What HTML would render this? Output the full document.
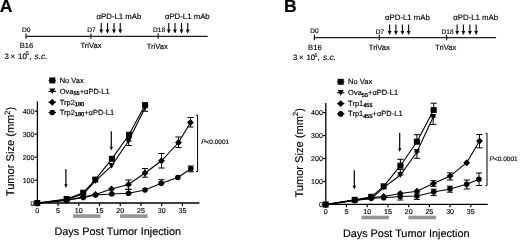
<!DOCTYPE html>
<html><head><meta charset="utf-8"><style>
html,body{margin:0;padding:0;background:#fff;width:520px;height:244px;overflow:hidden}
svg{display:block;filter:grayscale(1)}
text{font-family:"Liberation Sans", sans-serif;fill:#000;text-rendering:geometricPrecision;stroke:#000;stroke-width:0.15px}
</style></head><body>
<svg width="520" height="244" viewBox="0 0 520 244" font-family='"Liberation Sans", sans-serif'>
<rect width="520" height="244" fill="#fff"/>
<text x="-0.2" y="12.4" font-size="17.6" font-weight="bold">A</text>
<text x="283.9" y="12.4" font-size="17.6" font-weight="bold">B</text>
<g>
<g stroke="#1e1e1e" stroke-width="1.2" fill="none">
<path d="M26 36.3H207.7"/>
<path d="M26 33.4V38.8"/>
<path d="M90.9 33.4V38.8"/>
<path d="M158.2 33.4V38.8"/>
</g>
<g font-size="6.6">
<text x="21.9" y="31.9">D0</text>
<text x="87.3" y="32.4">D7</text>
<text x="153.1" y="32.3">D18</text>
</g>
<g font-size="7.6">
<text x="96.6" y="18.8" font-size="7.8">&#945;PD-L1 mAb</text>
<text x="164.9" y="18.8" font-size="7.8">&#945;PD-L1 mAb</text>
<text x="19.7" y="48.3">B16</text>
<text x="80.4" y="48.3">TriVax</text>
<text x="146.7" y="48.6">TriVax</text>
<text x="4.5" y="58.8" font-size="7.8">3<tspan x="10.5">&#215;</tspan><tspan x="18.1">10</tspan><tspan x="26" font-size="5.2" dy="-3.4">5</tspan><tspan x="29.2" dy="3.4">,</tspan><tspan x="34.6" font-style="italic" font-size="8.3">s.c.</tspan></text>
</g>
<path d="M101.25 23.1V30.1" stroke="#000" stroke-width="1.1" fill="none"/><path d="M99.35 29.6H103.15L101.25 33.6Z"/>
<path d="M107.5 23.1V30.1" stroke="#000" stroke-width="1.1" fill="none"/><path d="M105.6 29.6H109.4L107.5 33.6Z"/>
<path d="M114 23.1V30.1" stroke="#000" stroke-width="1.1" fill="none"/><path d="M112.1 29.6H115.9L114 33.6Z"/>
<path d="M120.25 23.1V30.1" stroke="#000" stroke-width="1.1" fill="none"/><path d="M118.35 29.6H122.15L120.25 33.6Z"/>
<path d="M168.75 23.1V30.1" stroke="#000" stroke-width="1.1" fill="none"/><path d="M166.85 29.6H170.65L168.75 33.6Z"/>
<path d="M175 23.1V30.1" stroke="#000" stroke-width="1.1" fill="none"/><path d="M173.1 29.6H176.9L175 33.6Z"/>
<path d="M181.5 23.1V30.1" stroke="#000" stroke-width="1.1" fill="none"/><path d="M179.6 29.6H183.4L181.5 33.6Z"/>
<path d="M187.75 23.1V30.1" stroke="#000" stroke-width="1.1" fill="none"/><path d="M185.85 29.6H189.65L187.75 33.6Z"/>
<path d="M48.6 80.4H56" stroke="#000" stroke-width="1.1"/>
<rect x="49.3" y="77.4" width="6" height="6"/>
<text x="59.7" y="82.9" font-size="7.5">No Vax</text>
<path d="M48.6 91.4H56" stroke="#000" stroke-width="1.1"/>
<path d="M49.3 88.5H55.3L52.3 94.3Z"/>
<text x="59.7" y="93.9" font-size="7.5">Ova<tspan font-size="5.6" dy="1.4" style="stroke-width:0.3px">55</tspan><tspan dy="-1.4">+&#945;PD-L1</tspan></text>
<path d="M48.6 102.2H56" stroke="#000" stroke-width="1.1"/>
<path d="M52.3 98.75L55.75 102.2L52.3 105.65L48.85 102.2Z"/>
<text x="59.7" y="104.7" font-size="7.5">Trp2<tspan font-size="5.6" dy="1.4" style="stroke-width:0.3px">180</tspan></text>
<path d="M48.6 112.5H56" stroke="#000" stroke-width="1.1"/>
<circle cx="52.3" cy="112.5" r="2.8"/>
<text x="59.7" y="115" font-size="7.5">Trp2<tspan font-size="5.6" dy="1.4" style="stroke-width:0.3px">180</tspan><tspan dy="-1.4">+&#945;PD-L1</tspan></text>
<g stroke="#000" stroke-width="1.2" fill="none">
<path d="M37.4 101.5V203H199.4" stroke-width="1.3"/>
<path d="M34.75 203.1H37.35"/>
<path d="M34.75 180.12H37.35"/>
<path d="M34.75 157.14H37.35"/>
<path d="M34.75 134.16H37.35"/>
<path d="M34.75 111.18H37.35"/>
<path d="M37.35 203.1V205.9"/>
<path d="M58.08 203.1V205.9"/>
<path d="M78.8 203.1V205.9"/>
<path d="M99.53 203.1V205.9"/>
<path d="M120.25 203.1V205.9"/>
<path d="M140.97 203.1V205.9"/>
<path d="M161.7 203.1V205.9"/>
<path d="M182.42 203.1V205.9"/>
</g>
<g font-size="7.1" text-anchor="end">
<text x="34.5" y="205.7">0</text>
<text x="34.5" y="182.72">100</text>
<text x="34.5" y="159.74">200</text>
<text x="34.5" y="136.76">300</text>
<text x="34.5" y="113.78">400</text>
</g>
<g font-size="7.1" text-anchor="middle">
<text x="37.35" y="212.5">0</text>
<text x="58.08" y="212.5">5</text>
<text x="78.8" y="212.5">10</text>
<text x="99.53" y="212.5">15</text>
<text x="120.25" y="212.5">20</text>
<text x="140.97" y="212.5">25</text>
<text x="161.7" y="212.5">30</text>
<text x="182.42" y="212.5">35</text>
</g>
<rect x="73.1" y="214.3" width="27.5" height="3.6" fill="#959595"/>
<rect x="120" y="214.3" width="27.7" height="3.6" fill="#959595"/>
<text x="54.5" y="235.3" font-size="10.85">Days Post Tumor Injection</text>
<text transform="translate(14.2 196.2) rotate(-90)" font-size="11.1">Tumor Size (mm<tspan font-size="7.5" dy="-4.6">2</tspan><tspan dy="4.6">)</tspan></text>
<path d="M65.9 168.9V184.8" stroke="#000" stroke-width="1.2" fill="none"/><path d="M64.2 184.3H67.6L65.9 188.1Z"/>
<path d="M111.3 131.3V147.3" stroke="#000" stroke-width="1.2" fill="none"/><path d="M109.6 146.8H113L111.3 150.6Z"/>
<path d="M145.1 105.1V111.3M142 105.1H148.2M142 111.3H148.2" fill="none" stroke="#000" stroke-width="1"/>
<path d="M128.7 141V145.5M125.6 141H131.8M125.6 145.5H131.8" fill="none" stroke="#000" stroke-width="1"/>
<path d="M128.5 180V189.5M125.4 180H131.6M125.4 189.5H131.6" fill="none" stroke="#000" stroke-width="1"/>
<path d="M145 168.5V177.2M141.9 168.5H148.1M141.9 177.2H148.1" fill="none" stroke="#000" stroke-width="1"/>
<path d="M161.5 153.5V168M158.4 153.5H164.6M158.4 168H164.6" fill="none" stroke="#000" stroke-width="1"/>
<path d="M178.5 137V147.5M175.4 137H181.6M175.4 147.5H181.6" fill="none" stroke="#000" stroke-width="1"/>
<path d="M190.5 117.5V127M187.4 117.5H193.6M187.4 127H193.6" fill="none" stroke="#000" stroke-width="1"/>
<path d="M128.5 189.2V193.2M125.4 189.2H131.6M125.4 193.2H131.6" fill="none" stroke="#000" stroke-width="1"/>
<path d="M161.4 179.7V183.2M158.3 179.7H164.5M158.3 183.2H164.5" fill="none" stroke="#000" stroke-width="1"/>
<path d="M190.8 166V171.8M187.7 166H193.9M187.7 171.8H193.9" fill="none" stroke="#000" stroke-width="1"/>
<path d="M37.2 203.2 L66.6 200.5 L83.25 197.5 L95.5 195 L111.8 194 L128.5 193.2 L145 190 L161.2 183.2 L177.8 177.5 L190.8 168.8" fill="none" stroke="#000" stroke-width="1.1"/>
<circle cx="37.2" cy="203.2" r="2.8"/>
<circle cx="66.6" cy="200.5" r="2.8"/>
<circle cx="83.25" cy="197.5" r="2.8"/>
<circle cx="95.5" cy="195" r="2.8"/>
<circle cx="111.8" cy="194" r="2.8"/>
<circle cx="128.5" cy="193.2" r="2.8"/>
<circle cx="145" cy="190" r="2.8"/>
<circle cx="161.2" cy="183.2" r="2.8"/>
<circle cx="177.8" cy="177.5" r="2.8"/>
<circle cx="190.8" cy="168.8" r="2.8"/>
<path d="M37.2 203.2 L66.6 200 L83.25 197 L95.5 194.5 L111.5 189 L128.5 184.5 L145 173 L161.5 160.8 L178.5 142.5 L190.5 122.5" fill="none" stroke="#000" stroke-width="1.1"/>
<path d="M37.2 199.75L40.65 203.2L37.2 206.65L33.75 203.2Z"/>
<path d="M66.6 196.55L70.05 200L66.6 203.45L63.15 200Z"/>
<path d="M83.25 193.55L86.7 197L83.25 200.45L79.8 197Z"/>
<path d="M95.5 191.05L98.95 194.5L95.5 197.95L92.05 194.5Z"/>
<path d="M111.5 185.55L114.95 189L111.5 192.45L108.05 189Z"/>
<path d="M128.5 181.05L131.95 184.5L128.5 187.95L125.05 184.5Z"/>
<path d="M145 169.55L148.45 173L145 176.45L141.55 173Z"/>
<path d="M161.5 157.35L164.95 160.8L161.5 164.25L158.05 160.8Z"/>
<path d="M178.5 139.05L181.95 142.5L178.5 145.95L175.05 142.5Z"/>
<path d="M190.5 119.05L193.95 122.5L190.5 125.95L187.05 122.5Z"/>
<path d="M37.3 203.1 L66.6 199.5 L83.25 193.9 L95.3 181.2 L111.6 165.8 L128.5 141 L145.2 107.5" fill="none" stroke="#000" stroke-width="1.1"/>
<path d="M34.3 200.2H40.3L37.3 206Z"/>
<path d="M63.6 196.6H69.6L66.6 202.4Z"/>
<path d="M80.25 191H86.25L83.25 196.8Z"/>
<path d="M92.3 178.3H98.3L95.3 184.1Z"/>
<path d="M108.6 162.9H114.6L111.6 168.7Z"/>
<path d="M125.5 138.1H131.5L128.5 143.9Z"/>
<path d="M142.2 104.6H148.2L145.2 110.4Z"/>
<path d="M37.3 203.1 L66.6 199.1 L83.25 192.7 L95.3 179.6 L111.9 158.8 L129 134.8 L145.1 105.1" fill="none" stroke="#000" stroke-width="1.1"/>
<rect x="34.3" y="200.1" width="6" height="6"/>
<rect x="63.6" y="196.1" width="6" height="6"/>
<rect x="80.25" y="189.7" width="6" height="6"/>
<rect x="92.3" y="176.6" width="6" height="6"/>
<rect x="108.9" y="155.8" width="6" height="6"/>
<rect x="126" y="131.8" width="6" height="6"/>
<rect x="142.1" y="102.1" width="6" height="6"/>
<path d="M196.1 115H197.6V171.5H196.1" fill="none" stroke="#000" stroke-width="1"/>
<text x="201.2" y="144.2" font-size="6.5"><tspan font-style="italic">P</tspan>&lt;0.0001</text>
</g>
<g transform="translate(288.4 1.4)">
<g stroke="#1e1e1e" stroke-width="1.2" fill="none">
<path d="M26 36.3H207.7"/>
<path d="M26 33.4V38.8"/>
<path d="M90.9 33.4V38.8"/>
<path d="M158.2 33.4V38.8"/>
</g>
<g font-size="6.6">
<text x="21.9" y="31.9">D0</text>
<text x="87.3" y="32.4">D7</text>
<text x="153.1" y="32.3">D18</text>
</g>
<g font-size="7.6">
<text x="96.6" y="18.8" font-size="7.8">&#945;PD-L1 mAb</text>
<text x="164.9" y="18.8" font-size="7.8">&#945;PD-L1 mAb</text>
<text x="19.7" y="48.3">B16</text>
<text x="80.4" y="48.3">TriVax</text>
<text x="146.7" y="48.6">TriVax</text>
<text x="4.5" y="58.8" font-size="7.8">3<tspan x="10.5">&#215;</tspan><tspan x="18.1">10</tspan><tspan x="26" font-size="5.2" dy="-3.4">5</tspan><tspan x="29.2" dy="3.4">,</tspan><tspan x="34.6" font-style="italic" font-size="8.3">s.c.</tspan></text>
</g>
<path d="M101.25 23.1V30.1" stroke="#000" stroke-width="1.1" fill="none"/><path d="M99.35 29.6H103.15L101.25 33.6Z"/>
<path d="M107.5 23.1V30.1" stroke="#000" stroke-width="1.1" fill="none"/><path d="M105.6 29.6H109.4L107.5 33.6Z"/>
<path d="M114 23.1V30.1" stroke="#000" stroke-width="1.1" fill="none"/><path d="M112.1 29.6H115.9L114 33.6Z"/>
<path d="M120.25 23.1V30.1" stroke="#000" stroke-width="1.1" fill="none"/><path d="M118.35 29.6H122.15L120.25 33.6Z"/>
<path d="M168.75 23.1V30.1" stroke="#000" stroke-width="1.1" fill="none"/><path d="M166.85 29.6H170.65L168.75 33.6Z"/>
<path d="M175 23.1V30.1" stroke="#000" stroke-width="1.1" fill="none"/><path d="M173.1 29.6H176.9L175 33.6Z"/>
<path d="M181.5 23.1V30.1" stroke="#000" stroke-width="1.1" fill="none"/><path d="M179.6 29.6H183.4L181.5 33.6Z"/>
<path d="M187.75 23.1V30.1" stroke="#000" stroke-width="1.1" fill="none"/><path d="M185.85 29.6H189.65L187.75 33.6Z"/>
<path d="M48.6 80.4H56" stroke="#000" stroke-width="1.1"/>
<rect x="49.3" y="77.4" width="6" height="6"/>
<text x="59.7" y="82.9" font-size="7.5">No Vax</text>
<path d="M48.6 91.4H56" stroke="#000" stroke-width="1.1"/>
<path d="M49.3 88.5H55.3L52.3 94.3Z"/>
<text x="59.7" y="93.9" font-size="7.5">Ova<tspan font-size="5.6" dy="1.4" style="stroke-width:0.3px">55</tspan><tspan dy="-1.4">+&#945;PD-L1</tspan></text>
<path d="M48.6 102.2H56" stroke="#000" stroke-width="1.1"/>
<path d="M52.3 98.75L55.75 102.2L52.3 105.65L48.85 102.2Z"/>
<text x="59.7" y="104.7" font-size="7.5">Trp1<tspan font-size="5.6" dy="1.4" style="stroke-width:0.3px">455</tspan></text>
<path d="M48.6 112.5H56" stroke="#000" stroke-width="1.1"/>
<circle cx="52.3" cy="112.5" r="2.8"/>
<text x="59.7" y="115" font-size="7.5">Trp1<tspan font-size="5.6" dy="1.4" style="stroke-width:0.3px">455</tspan><tspan dy="-1.4">+&#945;PD-L1</tspan></text>
<g stroke="#000" stroke-width="1.2" fill="none">
<path d="M37.4 101.5V203H199.4" stroke-width="1.3"/>
<path d="M34.75 203.1H37.35"/>
<path d="M34.75 180.12H37.35"/>
<path d="M34.75 157.14H37.35"/>
<path d="M34.75 134.16H37.35"/>
<path d="M34.75 111.18H37.35"/>
<path d="M37.35 203.1V205.9"/>
<path d="M58.08 203.1V205.9"/>
<path d="M78.8 203.1V205.9"/>
<path d="M99.53 203.1V205.9"/>
<path d="M120.25 203.1V205.9"/>
<path d="M140.97 203.1V205.9"/>
<path d="M161.7 203.1V205.9"/>
<path d="M182.42 203.1V205.9"/>
</g>
<g font-size="7.1" text-anchor="end">
<text x="34.5" y="205.7">0</text>
<text x="34.5" y="182.72">100</text>
<text x="34.5" y="159.74">200</text>
<text x="34.5" y="136.76">300</text>
<text x="34.5" y="113.78">400</text>
</g>
<g font-size="7.1" text-anchor="middle">
<text x="37.35" y="212.5">0</text>
<text x="58.08" y="212.5">5</text>
<text x="78.8" y="212.5">10</text>
<text x="99.53" y="212.5">15</text>
<text x="120.25" y="212.5">20</text>
<text x="140.97" y="212.5">25</text>
<text x="161.7" y="212.5">30</text>
<text x="182.42" y="212.5">35</text>
</g>
<rect x="73.1" y="214.3" width="27.5" height="3.6" fill="#959595"/>
<rect x="120" y="214.3" width="27.7" height="3.6" fill="#959595"/>
<text x="54.5" y="235.3" font-size="10.85">Days Post Tumor Injection</text>
<text transform="translate(14.2 196.2) rotate(-90)" font-size="11.1">Tumor Size (mm<tspan font-size="7.5" dy="-4.6">2</tspan><tspan dy="4.6">)</tspan></text>
<path d="M65.9 168.9V184.8" stroke="#000" stroke-width="1.2" fill="none"/><path d="M64.2 184.3H67.6L65.9 188.1Z"/>
<path d="M111.3 131.3V147.3" stroke="#000" stroke-width="1.2" fill="none"/><path d="M109.6 146.8H113L111.3 150.6Z"/>
<path d="M145.3 101.8V108.6M142.2 101.8H148.4M142.2 108.6H148.4" fill="none" stroke="#000" stroke-width="1"/>
<path d="M144.8 115.6V123M141.7 115.6H147.9M141.7 123H147.9" fill="none" stroke="#000" stroke-width="1"/>
<path d="M128.5 133.3V140.3M125.4 133.3H131.6M125.4 140.3H131.6" fill="none" stroke="#000" stroke-width="1"/>
<path d="M128.5 150.6V156.9M125.4 150.6H131.6M125.4 156.9H131.6" fill="none" stroke="#000" stroke-width="1"/>
<path d="M112 157.9V164.3M108.9 157.9H115.1M108.9 164.3H115.1" fill="none" stroke="#000" stroke-width="1"/>
<path d="M112 168.2V173.6M108.9 168.2H115.1M108.9 173.6H115.1" fill="none" stroke="#000" stroke-width="1"/>
<path d="M145 179.3V184.9M141.9 179.3H148.1M141.9 184.9H148.1" fill="none" stroke="#000" stroke-width="1"/>
<path d="M161.7 171.5V178.6M158.6 171.5H164.8M158.6 178.6H164.8" fill="none" stroke="#000" stroke-width="1"/>
<path d="M191.1 133.1V146.4M188 133.1H194.2M188 146.4H194.2" fill="none" stroke="#000" stroke-width="1"/>
<path d="M145.3 187.8V194.2M142.2 187.8H148.4M142.2 194.2H148.4" fill="none" stroke="#000" stroke-width="1"/>
<path d="M161.5 184.8V190.8M158.4 184.8H164.6M158.4 190.8H164.6" fill="none" stroke="#000" stroke-width="1"/>
<path d="M178.4 178.6V187.6M175.3 178.6H181.5M175.3 187.6H181.5" fill="none" stroke="#000" stroke-width="1"/>
<path d="M190.6 171.6V184.1M187.5 171.6H193.7M187.5 184.1H193.7" fill="none" stroke="#000" stroke-width="1"/>
<path d="M111.9 195.1V198.6M108.8 195.1H115M108.8 198.6H115" fill="none" stroke="#000" stroke-width="1"/>
<path d="M128.5 191.6V198M125.4 191.6H131.6M125.4 198H131.6" fill="none" stroke="#000" stroke-width="1"/>
<path d="M37.2 203.2 L66.3 199.1 L82.8 196.8 L95.3 196.4 L111.9 195.1 L128.5 194.6 L145.3 190.6 L161.5 187.6 L178.3 182.9 L190.6 177.8" fill="none" stroke="#000" stroke-width="1.1"/>
<circle cx="37.2" cy="203.2" r="2.8"/>
<circle cx="66.3" cy="199.1" r="2.8"/>
<circle cx="82.8" cy="196.8" r="2.8"/>
<circle cx="95.3" cy="196.4" r="2.8"/>
<circle cx="111.9" cy="195.1" r="2.8"/>
<circle cx="128.5" cy="194.6" r="2.8"/>
<circle cx="145.3" cy="190.6" r="2.8"/>
<circle cx="161.5" cy="187.6" r="2.8"/>
<circle cx="178.3" cy="182.9" r="2.8"/>
<circle cx="190.6" cy="177.8" r="2.8"/>
<path d="M37.2 203.2 L66.3 198.9 L82.8 196.2 L95.3 195.1 L111.9 192.1 L128.5 189.9 L145 182.2 L161.7 174.7 L178.3 161.3 L191.1 139.6" fill="none" stroke="#000" stroke-width="1.1"/>
<path d="M37.2 199.75L40.65 203.2L37.2 206.65L33.75 203.2Z"/>
<path d="M66.3 195.45L69.75 198.9L66.3 202.35L62.85 198.9Z"/>
<path d="M82.8 192.75L86.25 196.2L82.8 199.65L79.35 196.2Z"/>
<path d="M95.3 191.65L98.75 195.1L95.3 198.55L91.85 195.1Z"/>
<path d="M111.9 188.65L115.35 192.1L111.9 195.55L108.45 192.1Z"/>
<path d="M128.5 186.45L131.95 189.9L128.5 193.35L125.05 189.9Z"/>
<path d="M145 178.75L148.45 182.2L145 185.65L141.55 182.2Z"/>
<path d="M161.7 171.25L165.15 174.7L161.7 178.15L158.25 174.7Z"/>
<path d="M178.3 157.85L181.75 161.3L178.3 164.75L174.85 161.3Z"/>
<path d="M191.1 136.15L194.55 139.6L191.1 143.05L187.65 139.6Z"/>
<path d="M37.2 203.2 L66.3 198.7 L82.8 197.2 L95.3 186.2 L112 173.6 L128.5 150.6 L144.8 115.6" fill="none" stroke="#000" stroke-width="1.1"/>
<path d="M34.2 200.3H40.2L37.2 206.1Z"/>
<path d="M63.3 195.8H69.3L66.3 201.6Z"/>
<path d="M79.8 194.3H85.8L82.8 200.1Z"/>
<path d="M92.3 183.3H98.3L95.3 189.1Z"/>
<path d="M109 170.7H115L112 176.5Z"/>
<path d="M125.5 147.7H131.5L128.5 153.5Z"/>
<path d="M141.8 112.7H147.8L144.8 118.5Z"/>
<path d="M37.2 203.2 L66.3 198.4 L82.8 195.4 L95.3 184.9 L112 164.3 L128.5 140.3 L145.3 108.6" fill="none" stroke="#000" stroke-width="1.1"/>
<rect x="34.2" y="200.2" width="6" height="6"/>
<rect x="63.3" y="195.4" width="6" height="6"/>
<rect x="79.8" y="192.4" width="6" height="6"/>
<rect x="92.3" y="181.9" width="6" height="6"/>
<rect x="109" y="161.3" width="6" height="6"/>
<rect x="125.5" y="137.3" width="6" height="6"/>
<rect x="142.3" y="105.6" width="6" height="6"/>
<path d="M197.1 131.9H198.6V184.1H197.1" fill="none" stroke="#000" stroke-width="1"/>
<text x="201.2" y="159.8" font-size="6.5"><tspan font-style="italic">P</tspan>&lt;0.0001</text>
</g>
</svg>
</body></html>
